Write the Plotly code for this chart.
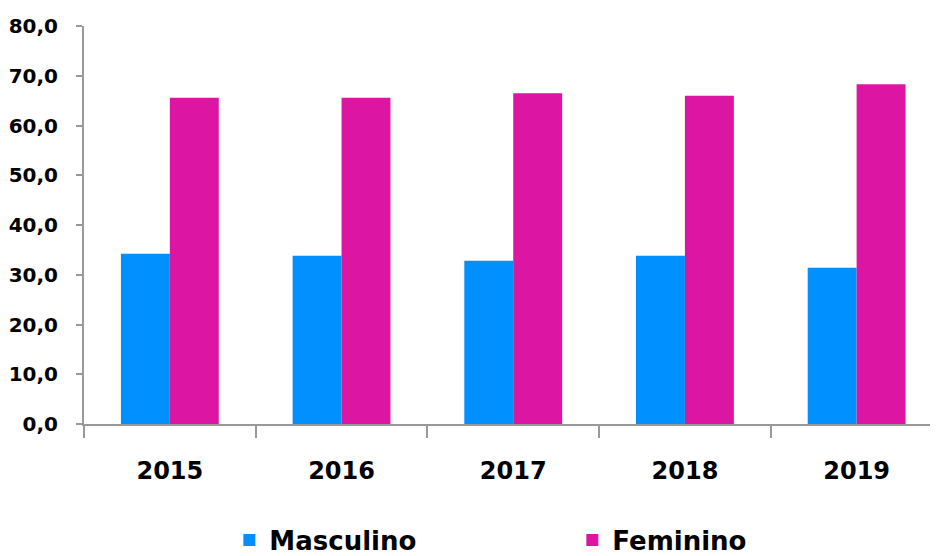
import plotly.graph_objects as go

years = ["2015", "2016", "2017", "2018", "2019"]
masculino = [34.2, 33.8, 32.8, 33.8, 31.4]
feminino = [65.6, 65.6, 66.5, 66.0, 68.3]
y_ticks = [0, 10, 20, 30, 40, 50, 60, 70, 80]
y_tick_labels = ["0,0", "10,0", "20,0", "30,0", "40,0", "50,0", "60,0", "70,0", "80,0"]

BLUE = "#0090ff"
MAGENTA = "#dc16a2"
FONT = "DejaVu Sans"

fig = go.Figure()
fig.add_trace(go.Bar(x=years, y=masculino, name="Masculino", marker=dict(color=BLUE, line=dict(width=0))))
fig.add_trace(go.Bar(x=years, y=feminino, name="Feminino", marker=dict(color=MAGENTA, line=dict(width=0))))

fig.update_layout(
    width=930, height=548,
    margin=dict(l=76, r=0, t=18, b=132, autoexpand=False),
    plot_bgcolor="white", paper_bgcolor="white",
    barmode="group", bargap=0.43, bargroupgap=0,
    showlegend=True,
    legend=dict(
        orientation="h", xref="container", yref="container",
        x=0.238, y=0.072, xanchor="left", yanchor="top",
        font=dict(family=FONT, size=26, color="black", weight="bold"),
        entrywidth=298, entrywidthmode="pixels",
        bgcolor="rgba(0,0,0,0)",
    ),
    font=dict(family=FONT, color="black"),
)
fig.update_xaxes(
    type="category", range=[-0.5, 4.474],
    showline=True, linecolor="#999999", linewidth=2,
    ticks="outside", ticklen=12, tickcolor="#999999", tickwidth=2,
    tickson="boundaries", showgrid=False, zeroline=False,
    tickfont=dict(family=FONT, size=24, color="black", weight="bold"),
    ticklabelstandoff=24,
)
fig.update_yaxes(
    range=[0, 80], tickvals=y_ticks, ticktext=y_tick_labels,
    showline=True, linecolor="#999999", linewidth=2,
    ticks="outside", ticklen=6, tickcolor="#999999", tickwidth=2,
    showgrid=False, zeroline=False,
    tickfont=dict(family=FONT, size=20, color="black", weight="bold"),
    ticklabelstandoff=14,
)

fig.write_html("out.html")
